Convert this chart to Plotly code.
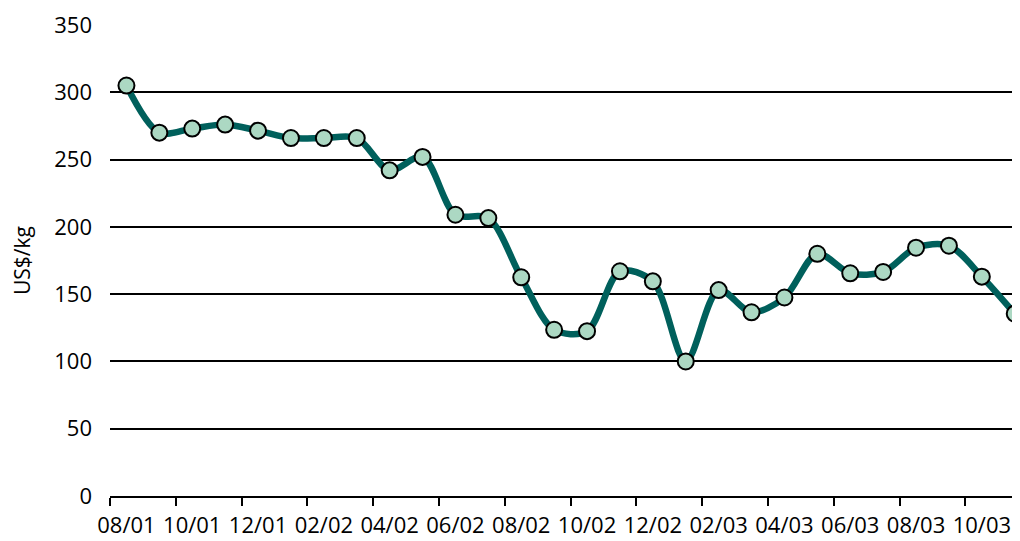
import plotly.graph_objects as go

months = ["08/01", "09/01", "10/01", "11/01", "12/01", "01/02", "02/02", "03/02",
          "04/02", "05/02", "06/02", "07/02", "08/02", "09/02", "10/02", "11/02",
          "12/02", "01/03", "02/03", "03/03", "04/03", "05/03", "06/03", "07/03",
          "08/03", "09/03", "10/03", "11/03"]
prices = [305, 270, 273, 276, 271.5, 266, 266, 266,
          242, 252, 209, 206.5, 162.5, 123.5, 122.5, 167,
          159.5, 100, 153, 136.5, 147.5, 180, 165.5, 166.5,
          184.5, 186, 163, 135.5]
y_ticks = [0, 50, 100, 150, 200, 250, 300, 350]

FONT = "Open Sans"

fig = go.Figure()
fig.add_trace(go.Scatter(
    x=months, y=prices, mode="lines+markers",
    line=dict(color="#00605c", width=6.5, shape="spline", smoothing=0.9),
    marker=dict(size=16, color="#acd8c3", line=dict(color="#000000", width=2)),
    cliponaxis=False, hoverinfo="x+y",
))

# The page has an 8px body margin, so the figure is sized/offset to compensate.
fig.update_layout(
    width=1012, height=533,
    margin=dict(l=102, r=0, t=17, b=45),
    paper_bgcolor="white", plot_bgcolor="white",
    showlegend=False,
    font=dict(family=FONT, size=22, color="#000000"),
    xaxis=dict(
        type="category", categoryorder="array", categoryarray=months,
        range=[-0.5, 27.16], dtick=2, tickson="boundaries",
        ticks="outside", ticklen=8, tickwidth=2, tickcolor="#000000",
        showline=True, linecolor="#000000", linewidth=2,
        showgrid=False, zeroline=False, tickangle=0, automargin=False,
        ticklabelstandoff=9,
        tickfont=dict(family=FONT, size=22),
    ),
    yaxis=dict(
        range=[0, 350], tickvals=y_ticks,
        showgrid=True, gridcolor="#000000", gridwidth=2,
        zeroline=False, showline=False, ticks="",
        ticklabelstandoff=17, automargin=False,
        tickfont=dict(family=FONT, size=22),
        title=dict(text="US$/kg", font=dict(family=FONT, size=21), standoff=21),
    ),
)

fig.write_html("out.html")
